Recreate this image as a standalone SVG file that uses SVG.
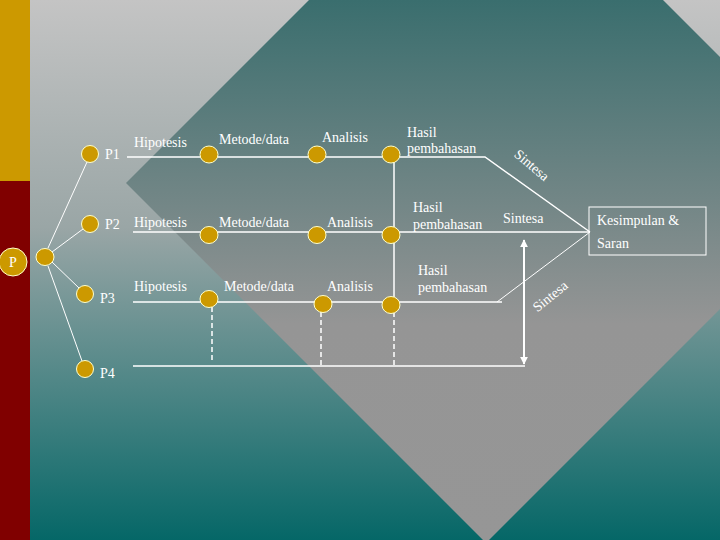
<svg xmlns="http://www.w3.org/2000/svg" width="720" height="540" viewBox="0 0 720 540">
<defs>
<linearGradient id="bg" x1="0" y1="0" x2="0" y2="540" gradientUnits="userSpaceOnUse">
<stop offset="0" stop-color="#C4C4C4"/>
<stop offset="0.42" stop-color="#9AA6A6"/>
<stop offset="1" stop-color="#056767"/>
</linearGradient>
<linearGradient id="dia" x1="0" y1="0" x2="0" y2="540" gradientUnits="userSpaceOnUse">
<stop offset="0" stop-color="#3A6E6E"/>
<stop offset="0.6" stop-color="#959595"/>
<stop offset="1" stop-color="#969696"/>
</linearGradient>
<marker id="ah" viewBox="0 0 10 10" refX="9" refY="5" markerWidth="4" markerHeight="4" orient="auto-start-reverse" markerUnits="strokeWidth">
<path d="M0,0 L10,5 L0,10 z" fill="#FFFFFF"/>
</marker>
<style>
.n{fill:#CC9900;stroke:#FFFFCC;stroke-width:1}
.t{font-family:"Liberation Serif","Times New Roman",serif;font-size:14px;fill:#FFFFFF}
.l{stroke:#FFFFFF;stroke-width:1.5;fill:none}
.thin{stroke:#FFFFFF;stroke-width:1;fill:none}
.d{stroke:#FFFFFF;stroke-width:1.5;fill:none;stroke-dasharray:5 3}
</style>
</defs>
<rect x="0" y="0" width="720" height="540" fill="url(#bg)"/>
<polygon points="486,-177 846,183 486,543 126,183" fill="url(#dia)"/>
<rect x="0" y="0" width="30" height="181" fill="#CC9900"/>
<rect x="0" y="181" width="30" height="359" fill="#800000"/>

<g id="connectors">
<line class="thin" x1="48" y1="248" x2="87" y2="162"/>
<line class="thin" x1="52" y1="252" x2="83" y2="229"/>
<line class="thin" x1="52" y1="262" x2="79" y2="288"/>
<line class="thin" x1="48" y1="266" x2="82" y2="361"/>
<polyline class="l" points="127,157 485,157 590,232"/>
<line class="l" x1="133" y1="232" x2="590" y2="232"/>
<line class="l" x1="133" y1="302" x2="502" y2="302"/>
<line class="thin" x1="497" y1="302" x2="590" y2="232"/>
<line class="l" x1="133" y1="366" x2="525" y2="366"/>
<line class="l" x1="394" y1="157" x2="394" y2="302"/>
<line class="d" x1="212" y1="307" x2="212" y2="362"/>
<line class="d" x1="321" y1="312" x2="321" y2="366"/>
<line class="d" x1="394" y1="312" x2="394" y2="366"/>
<line x1="524" y1="240" x2="524" y2="364" stroke="#FFFFFF" stroke-width="2" marker-start="url(#ah)" marker-end="url(#ah)"/>
</g>

<g id="P"><circle class="n" cx="13" cy="262" r="14"/><text class="t" x="13" y="267" text-anchor="middle" fill="#FFFFCC">P</text></g>
<g id="junction"><ellipse class="n" cx="45" cy="257" rx="9" ry="8.5"/></g>
<g id="P1"><circle class="n" cx="90" cy="154" r="8.5"/><text class="t" x="105" y="154" dy="5">P1</text></g>
<g id="P2"><circle class="n" cx="90" cy="224" r="8.5"/><text class="t" x="105" y="229" >P2</text></g>
<g id="P3"><circle class="n" cx="85" cy="294" r="8.5"/><text class="t" x="100" y="303">P3</text></g>
<g id="P4"><circle class="n" cx="85" cy="369" r="8.5"/><text class="t" x="100" y="378">P4</text></g>

<g id="row1">
<text class="t" x="134" y="147">Hipotesis</text>
<ellipse class="n" cx="209" cy="154.5" rx="9" ry="8.5"/>
<text class="t" x="219" y="144">Metode/data</text>
<ellipse class="n" cx="317" cy="154.5" rx="9" ry="8.5"/>
<text class="t" x="322" y="142">Analisis</text>
<ellipse class="n" cx="391" cy="154.5" rx="9" ry="8.5"/>
<text class="t" x="407" y="137">Hasil</text>
<text class="t" x="407" y="153">pembahasan</text>
</g>
<g id="row2">
<text class="t" x="134" y="227">Hipotesis</text>
<ellipse class="n" cx="209" cy="235" rx="9" ry="8.5"/>
<text class="t" x="219" y="227">Metode/data</text>
<ellipse class="n" cx="317" cy="235" rx="9" ry="8.5"/>
<text class="t" x="327" y="227">Analisis</text>
<ellipse class="n" cx="391" cy="235" rx="9" ry="8.5"/>
<text class="t" x="413" y="212">Hasil</text>
<text class="t" x="413" y="229">pembahasan</text>
<text class="t" x="503" y="223">Sintesa</text>
</g>
<g id="row3">
<text class="t" x="134" y="291">Hipotesis</text>
<ellipse class="n" cx="209" cy="299" rx="9" ry="8.5"/>
<text class="t" x="224" y="291">Metode/data</text>
<ellipse class="n" cx="323" cy="304" rx="9" ry="8.5"/>
<text class="t" x="327" y="291">Analisis</text>
<ellipse class="n" cx="391" cy="305" rx="9" ry="8.5"/>
<text class="t" x="418" y="275">Hasil</text>
<text class="t" x="418" y="292">pembahasan</text>
</g>
<g id="kesimpulan">
<rect x="589" y="207" width="117" height="48" fill="none" stroke="#FFFFFF" stroke-width="1"/>
<text class="t" x="597" y="225">Kesimpulan &amp;</text>
<text class="t" x="597" y="248">Saran</text>
</g>
<g id="sintesa-labels">
<text class="t" x="532" y="165" text-anchor="middle" dy="5" transform="rotate(40 532 165)">Sintesa</text>
<text class="t" x="550" y="296" text-anchor="middle" dy="5" transform="rotate(-39 550 296)">Sintesa</text>
</g>
</svg>
